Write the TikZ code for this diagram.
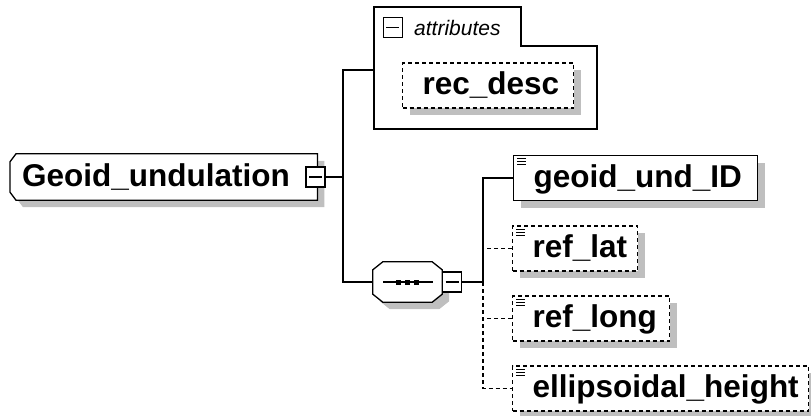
\documentclass[tikz,border=0pt]{standalone}
\usepackage{fontspec}
\setmainfont{Liberation Sans}
\usetikzlibrary{shadows,backgrounds}

\tikzset{
  boxshadow/.style={drop shadow={shadow xshift=7pt,shadow yshift=-7pt,fill=black!25,opacity=1}},
  label/.style={anchor=west,minimum height=45pt,inner xsep=20pt,inner ysep=0pt,
    text height=24pt,text depth=6pt,align=left,
    font=\fontsize{31.5}{36}\selectfont\bfseries},
  elem/.style={label,draw,line width=1.3pt,fill=white,boxshadow},
  optelem/.style={elem,dash pattern=on 4pt off 3pt},
  btn/.style={draw,line width=1.3pt,fill=white,minimum width=19pt,
    minimum height=20pt,inner sep=0pt,
    path picture={\draw[line width=1.3pt] ([xshift=3pt]path picture bounding box.west)
      -- ([xshift=-3pt]path picture bounding box.east);}},
  link/.style={line width=1.3pt},
  optlink/.style={link,dash pattern=on 4pt off 3pt}
}

% small "typed element" mark in the top left corner of a box
\newcommand{\typeicon}[1]{%
  \foreach \dy in {4,7,10}
    \draw[line width=1pt] ([shift={(4,\dy)}]#1.north west) -- ++(9,0);}

\begin{document}
\begin{tikzpicture}[x=1pt,y=-1pt]
    \useasboundingbox (0,0) rectangle (811,415);

    % Root element
    \node[label,minimum height=46pt,inner xsep=12pt,text width=283pt] (geoid) at (10,177) {Geoid\_undulation};
    \begin{scope}[on background layer]
      \draw[link,fill=white,boxshadow] ([xshift=6pt]geoid.north west) -- (geoid.north east)
        -- (geoid.south east) -- ([xshift=6pt]geoid.south west)
        -- ([yshift=8pt]geoid.south west) -- ([yshift=-8pt]geoid.north west) -- cycle;
    \end{scope}
    \node[btn] (geoidbtn) at (315.5,177) {};

    % Attributes group
    \draw[link] (374,7) -- (521,7) -- (521,46) -- (597,46) -- (597,129) -- (374,129) -- cycle;
    \coordinate (attr) at (374,70);
    \node[btn,line width=1pt] (attrbtn) at (392.5,27.5) {};
    \node[anchor=west,inner sep=0pt,font=\fontsize{21}{24}\selectfont\itshape] (attrlabel) at (414,28) {attributes};
    \node[optelem,text width=131pt] (recdesc) at (402,85.5) {rec\_desc};

    % Sequence compositor
    \node[minimum width=69pt,minimum height=40pt,inner sep=0pt] (seq) at (407.5,282) {};
    \begin{scope}[on background layer]
      \draw[link,fill=white,boxshadow] ([xshift=10pt]seq.north west) -- ([xshift=-10pt]seq.north east)
        -- ([yshift=-8pt]seq.north east) -- ([yshift=8pt]seq.south east)
        -- ([xshift=-10pt]seq.south east) -- ([xshift=10pt]seq.south west)
        -- ([yshift=8pt]seq.south west) -- ([yshift=-8pt]seq.north west) -- cycle;
    \end{scope}
    \draw[link] ([xshift=-24.5pt]seq.center) -- ([xshift=25.5pt]seq.center);
    \foreach \dx in {-9,0,9}
      \fill ([shift={(\dx-2.5,-2.5)}]seq.center) rectangle ++(5,5);
    \node[btn] (seqbtn) at (452,282) {};

    % Child elements
    \node[elem,text width=204pt] (undid) at (513,178) {geoid\_und\_ID};
    \node[optelem,text width=85pt] (reflat) at (512,248.5) {ref\_lat};
    \node[optelem,text width=117pt] (reflong) at (512,318.5) {ref\_long};
    \node[optelem,text width=256pt] (ellip) at (512,388.5) {ellipsoidal\_height};
    \typeicon{undid}
    \typeicon{reflat}
    \typeicon{reflong}
    \typeicon{ellip}

    % Connectors
    \coordinate (fork) at (343,177);
    \coordinate (fork2) at (483,282);
    \draw[link] (geoidbtn.east) -- (fork);
    \draw[link] (attr) -| (fork) |- (seq.west);
    \draw[link] (seqbtn.east) -- (fork2) |- (undid.west);
    \draw[optlink] (reflat.west) -- (reflat.west -| fork2);
    \draw[optlink] (fork2) |- (ellip.west);
    \draw[optlink] (reflong.west) -- (reflong.west -| fork2);
\end{tikzpicture}
\end{document}
